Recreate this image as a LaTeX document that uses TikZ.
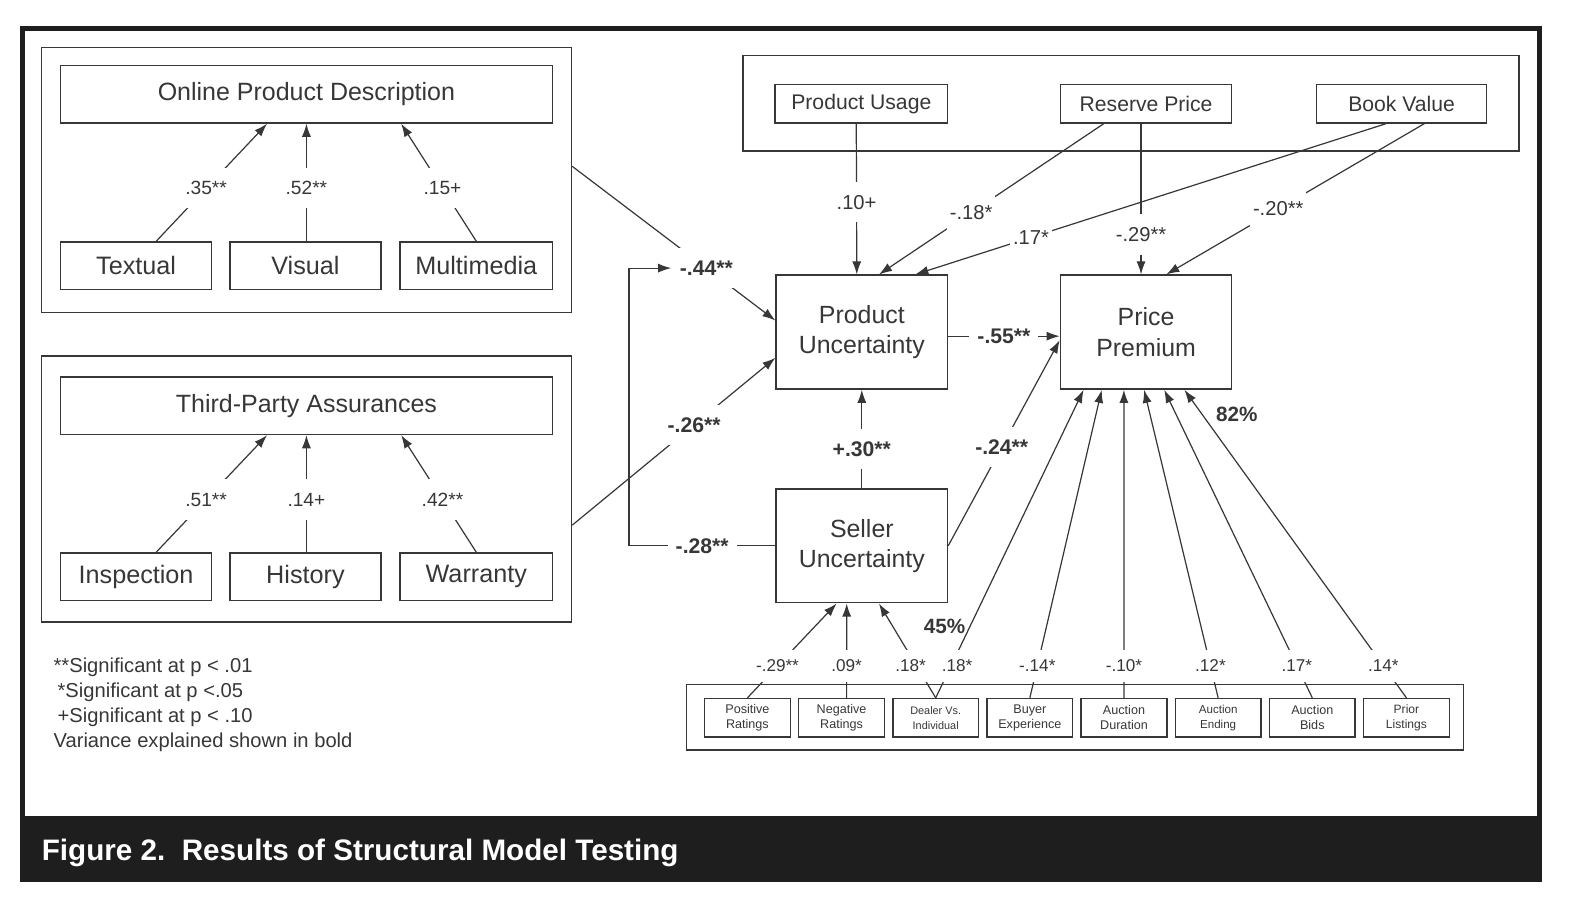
\documentclass[tikz,border=0pt]{standalone}
\usepackage{fontspec}
\setmainfont{Liberation Sans}
\usetikzlibrary{arrows.meta}
\definecolor{ink}{RGB}{55,55,55}
\definecolor{band}{RGB}{30,30,30}
\tikzset{
    box/.style={draw=ink, line width=1.4pt, inner sep=0pt, align=center, text=ink},
    grp/.style={draw=ink, line width=1.4pt, inner sep=0pt},
    arr/.style={draw=ink, line width=1.2pt, -{Latex[length=13pt,width=9pt]}},
    coef/.style={fill=white, text=ink, inner sep=3pt, minimum height=40pt, font=\fontsize{19}{19}\selectfont},
    coeft/.style={coef, font=\fontsize{20}{20}\selectfont},
    coefs/.style={coef, minimum height=32pt, font=\fontsize{17}{17}\selectfont},
    coefb/.style={coef, inner xsep=8pt, font=\fontsize{21}{21}\selectfont\bfseries},
    pct/.style={text=ink, inner sep=0pt, font=\fontsize{20.5}{20.5}\selectfont\bfseries},
}
\begin{document}
\begin{tikzpicture}[x=1pt, y=-1pt]
        \useasboundingbox (0,0) rectangle (1567.5,902.8);
        \fill[band] (20,810) rectangle (1530,875);
        \draw[band, line width=5pt] (22.5,875) -- (22.5,28) -- (1527.5,28) -- (1527.5,875);
        \node[anchor=west, text=white, font=\fontsize{29.4}{30}\selectfont\bfseries] (cap) at (38,846) {Figure 2.\ \ Results of Structural Model Testing};

        \node[grp, minimum width=526pt, minimum height=263pt] (g1) at (304,178.5) {};
        \node[box, minimum width=488pt, minimum height=57pt, font=\fontsize{24.8}{30}\selectfont] (odp) at (304,93.5) {Online Product Description};
        \node[box, minimum width=150pt, minimum height=47pt, font=\fontsize{25}{30}\selectfont] (tex) at (135,263.5) {Textual};
        \node[box, minimum width=150pt, minimum height=47pt, font=\fontsize{25}{30}\selectfont] (vis) at (303,263.5) {Visual};
        \node[box, minimum width=151pt, minimum height=47pt, font=\fontsize{25}{30}\selectfont] (mm) at (472.5,263.5) {Multimedia};
        \draw[arr] ([xshift=20pt]tex.north) -- node[coef,pos=0.45]{.35**} ([xshift=-39pt]odp.south);
        \draw[arr] ([xshift=1pt]vis.north) -- node[coef,pos=0.45]{.52**} (odp.south);
        \draw[arr] (mm.north) -- node[coef,pos=0.45]{.15+} ([xshift=94pt]odp.south);

        \node[grp, minimum width=526pt, minimum height=264pt] (g2) at (304,485) {};
        \node[box, minimum width=488pt, minimum height=57pt, font=\fontsize{24.8}{30}\selectfont] (tpa) at (304,402.5) {Third-Party Assurances};
        \node[box, minimum width=150pt, minimum height=47pt, font=\fontsize{25}{30}\selectfont] (ins) at (135,572) {Inspection};
        \node[box, minimum width=150pt, minimum height=47pt, font=\fontsize{25}{30}\selectfont] (his) at (303,572) {History};
        \node[box, minimum width=151pt, minimum height=47pt, font=\fontsize{25}{30}\selectfont] (war) at (472.5,572) {Warranty};
        \draw[arr] ([xshift=20pt]ins.north) -- node[coef,pos=0.45]{.51**} ([xshift=-39pt]tpa.south);
        \draw[arr] ([xshift=1pt]his.north) -- node[coef,pos=0.45]{.14+} (tpa.south);
        \draw[arr] (war.north) -- node[coef,pos=0.45]{.42**} ([xshift=94pt]tpa.south);

        \node[grp, minimum width=770pt, minimum height=95pt] (ctl) at (1122,102.5) {};
        \node[box, minimum width=171pt, minimum height=38pt, font=\fontsize{21}{25}\selectfont] (use) at (854.5,103) {Product Usage};
        \node[box, minimum width=170pt, minimum height=38pt, font=\fontsize{21}{25}\selectfont] (res) at (1137,103) {Reserve Price};
        \node[box, minimum width=169pt, minimum height=38pt, font=\fontsize{21}{25}\selectfont] (book) at (1390.5,103) {Book Value};

        \node[box, minimum width=170pt, minimum height=113pt, font=\fontsize{24.7}{30}\selectfont] (pu) at (855,329.5) {Product\\Uncertainty};
        \node[box, minimum width=170pt, minimum height=113pt, font=\fontsize{24.7}{30}\selectfont] (pp) at (1137,329.5) {Price\\Premium};
        \node[box, minimum width=170pt, minimum height=113pt, font=\fontsize{24.7}{30}\selectfont] (su) at (855,541.5) {Seller\\Uncertainty};

        \draw[arr] ([xshift=-5pt]use.south) -- node[coeft,pos=0.52]{.10+} ([xshift=-5pt]pu.north);
        \draw[arr] ([xshift=-42pt]res.south) -- node[coeft,pos=0.59]{-.18*} ([xshift=17pt]pu.north);
        \draw[arr] ([xshift=-15.5pt]book.south) -- node[coeft,pos=0.754]{.17*} ([xshift=53pt]pu.north);
        \draw[arr] ([xshift=-5pt]res.south) -- node[coeft,pos=0.735]{-.29**} ([xshift=-5pt]pp.north);
        \draw[arr] ([xshift=22.5pt]book.south) -- node[coeft,pos=0.566]{-.20**} ([xshift=20pt]pp.north);

        \draw[arr] ([yshift=13.5pt]g1.east) -- node[coefb,pos=0.66] (l44) {-.44**} ([yshift=11.5pt]pu.west);
        \draw[arr] ([yshift=-36pt]g2.east) -- node[coefb,pos=0.6]{-.26**} ([yshift=-25.5pt]pu.west);
        \draw[arr] (su.west) -- node[coefb]{-.28**} (624,541.5) |- (l44.west);
        \draw[arr] ([yshift=-4pt]pu.east) -- node[coefb]{-.55**} ([yshift=-4pt]pp.west);
        \draw[arr] (su.north) -- node[coefb,pos=0.4]{+.30**} (pu.south);
        \draw[arr] (su.east) -- node[coefb,pos=0.48]{-.24**} ([yshift=-8pt]pp.west);

        \node[grp, minimum width=771pt, minimum height=65pt] (cov) at (1066.5,711.5) {};
        \node[box, minimum width=85pt, minimum height=38pt, font=\fontsize{12.5}{15}\selectfont] (c1) at (741.5,712) {Positive\\Ratings};
        \node[box, minimum width=85pt, minimum height=38pt, font=\fontsize{12.5}{15}\selectfont] (c2) at (834.9,712) {Negative\\Ratings};
        \node[box, minimum width=85pt, minimum height=38pt, font=\fontsize{10.8}{15}\selectfont] (c3) at (928.3,712) {Dealer Vs.\\Individual};
        \node[box, minimum width=85pt, minimum height=38pt, font=\fontsize{12.5}{15}\selectfont] (c4) at (1021.7,712) {Buyer\\Experience};
        \node[box, minimum width=85pt, minimum height=38pt, font=\fontsize{12.5}{15}\selectfont] (c5) at (1115.1,712) {Auction\\Duration};
        \node[box, minimum width=85pt, minimum height=38pt, font=\fontsize{11.5}{15}\selectfont] (c6) at (1208.5,712) {Auction\\Ending};
        \node[box, minimum width=85pt, minimum height=38pt, font=\fontsize{12.5}{15}\selectfont] (c7) at (1301.9,712) {Auction\\Bids};
        \node[box, minimum width=85pt, minimum height=38pt, font=\fontsize{12}{15}\selectfont] (c8) at (1395.3,712) {Prior\\Listings};

        \draw[arr] (c1.north) -- node[coefs,pos=0.337]{-.29**} ([xshift=-25pt]su.south);
        \draw[arr] ([xshift=5pt]c2.north) -- node[coefs,pos=0.337]{.09*} ([xshift=-15pt]su.south);
        \draw[arr] (c3.north) -- node[coefs,pos=0.337,xshift=-6pt]{.18*} ([xshift=17pt]su.south);
        \draw[arr] (c3.north) -- node[coefs,pos=0.104,xshift=6pt]{.18*} ([xshift=-62pt]pp.south);
        \draw[arr] (c4.north) -- node[coefs,pos=0.104]{-.14*} ([xshift=-44pt]pp.south);
        \draw[arr] (c5.north) -- node[coefs,pos=0.104]{-.10*} ([xshift=-22pt]pp.south);
        \draw[arr] (c6.north) -- node[coefs,pos=0.104]{.12*} ([xshift=-2pt]pp.south);
        \draw[arr] (c7.north) -- node[coefs,pos=0.104]{.17*} ([xshift=18pt]pp.south);
        \draw[arr] (c8.north) -- node[coefs,pos=0.104]{.14*} ([xshift=38pt]pp.south);

        \node[pct] (r2su) at (937,621) {45\%};
        \node[pct] (r2pp) at (1227,411) {82\%};

        \node[anchor=north west, align=left, text=ink, inner sep=0pt, font=\fontsize{20}{25}\selectfont] (note) at (53,652) {**Significant at p < .01\\\hspace*{4pt}*Significant at p <.05\\\hspace*{4pt}+Significant at p < .10\\Variance explained shown in bold};
\end{tikzpicture}
\end{document}
